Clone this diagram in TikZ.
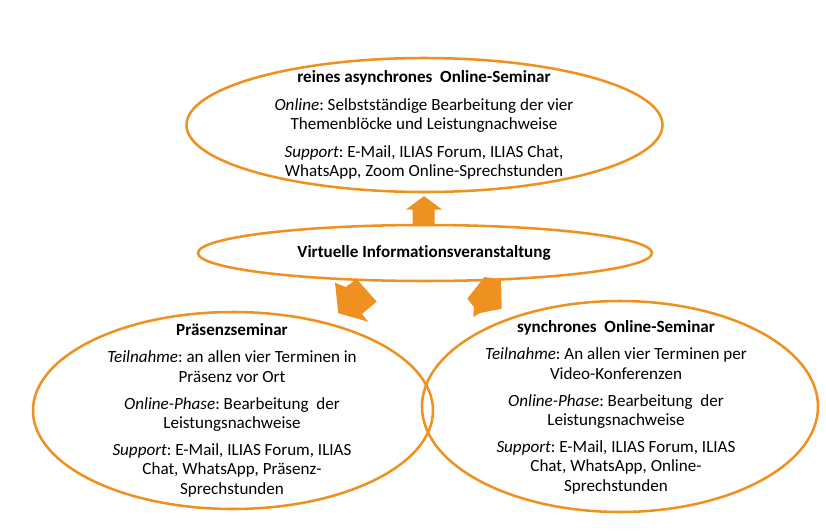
\documentclass[tikz,border=0pt]{standalone}
\usepackage{fontspec}
\setmainfont{Carlito}[Ligatures=NoCommon]
\usetikzlibrary{shapes.geometric}
\definecolor{orng}{RGB}{238,145,32}
\frenchspacing
\begin{document}
\begin{tikzpicture}[x=0.75pt,y=-0.75pt,
  oval/.style={draw=orng,line width=1.9pt,ellipse,inner sep=0pt},
  txt/.style={align=center,font=\fontsize{12.8}{14.6}\selectfont,text=black,inner sep=0pt},
  blk/.style={fill=orng,draw=none}]
\useasboundingbox (0,0) rectangle (826,532);
% block arrows
\fill[blk] (424,196) -- (442,209.5) -- (434.5,209.5) -- (434.5,226) -- (412.5,226) -- (412.5,209.5) -- (406,209.5) -- cycle;
\fill[blk] (338.3,313.3) -- (335,282.7) -- (345.7,287) -- (356.7,279) -- (376.7,301.7) -- (362,314) -- (368.3,321.7) -- cycle;
\fill[blk] (467.3,298.7) -- (484.3,277) -- (501,279.3) -- (501.7,308.7) -- (480,313) -- (473.3,317) -- (474,307) -- cycle;
% ellipses
\node[oval,minimum width=357pt,minimum height=100.5pt] (top) at (424.5,125) {};
\node[oval,minimum width=340.5pt,minimum height=42pt] (mid) at (425,253) {};
\node[oval,minimum width=300pt,minimum height=147.75pt] (bl) at (233,410.5) {};
\node[oval,minimum width=297pt,minimum height=158.25pt] (br) at (620,406.5) {};
% texts
\node[txt] (toptxt) at (424,125) {\textbf{reines asynchrones\ \ Online-Seminar}\\[6pt]
\textit{Online}: Selbstständige Bearbeitung der vier\\
Themenblöcke und Leistungnachweise\\[6pt]
\textit{Support}: E-Mail, ILIAS Forum, ILIAS Chat,\\
WhatsApp, Zoom Online-Sprechstunden};
\node[txt] (midtxt) at (424,253) {\textbf{Virtuelle Informationsveranstaltung}};
\node[txt] (bltxt) at (232,410.5) {\textbf{Präsenzseminar}\\[5.5pt]
\textit{Teilnahme}: an allen vier Terminen in\\
Präsenz vor Ort\\[5.5pt]
\textit{Online-Phase}: Bearbeitung\ \ der\\
Leistungsnachweise\\[5.5pt]
\textit{Support}: E-Mail, ILIAS Forum, ILIAS\\
Chat, WhatsApp, Präsenz-\\
Sprechstunden};
\node[txt] (brtxt) at (616,407.5) {\textbf{synchrones\ \ Online-Seminar}\\[5.5pt]
\textit{Teilnahme}: An allen vier Terminen per\\
Video-Konferenzen\\[5.5pt]
\textit{Online-Phase}: Bearbeitung\ \ der\\
Leistungsnachweise\\[5.5pt]
\textit{Support}: E-Mail, ILIAS Forum, ILIAS\\
Chat, WhatsApp, Online-\\
Sprechstunden};
\end{tikzpicture}
\end{document}
